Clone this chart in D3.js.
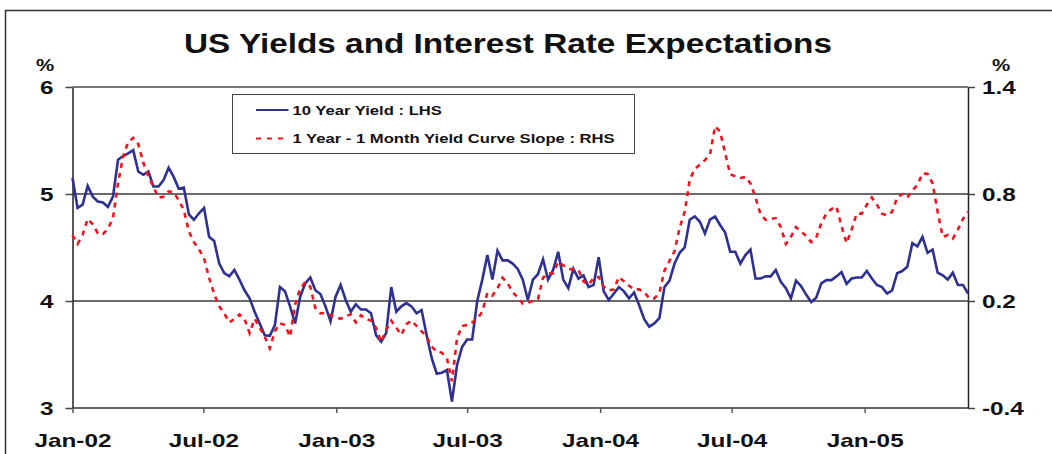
<!DOCTYPE html>
<html>
<head>
<meta charset="utf-8">
<script src="https://cdn.jsdelivr.net/npm/d3@7"></script>
<style>
  html, body { margin: 0; padding: 0; background: #fff; }
  svg { display: block; }
</style>
</head>
<body>
<svg id="chart" width="1052" height="454"></svg>
<script>
// Weekly observations, first week starting 1 Jan 2002
const startDate = new Date(Date.UTC(2002, 0, 1));
const endDate = new Date(Date.UTC(2005, 4, 25));

// 10 year Treasury yield, % (left axis)
const yield10 = [
  5.15, 4.87, 4.90, 5.075, 4.975, 4.93, 4.92, 4.88, 4.975, 5.32,
  5.355, 5.38, 5.41, 5.21, 5.18, 5.21, 5.07, 5.07, 5.13, 5.245,
  5.16, 5.05, 5.06, 4.81, 4.76, 4.82, 4.87, 4.60, 4.56, 4.35,
  4.26, 4.23, 4.29, 4.20, 4.10, 4.025, 3.90, 3.79, 3.68, 3.675,
  3.775, 4.13, 4.09, 3.95, 3.79, 4.04, 4.165, 4.22, 4.10, 4.065,
  3.95, 3.81, 4.04, 4.15, 4.01, 3.90, 3.97, 3.92, 3.92, 3.885,
  3.68, 3.62, 3.70, 4.13, 3.90, 3.95, 3.98, 3.95, 3.885, 3.915,
  3.68, 3.465, 3.32, 3.33, 3.355, 3.06, 3.40, 3.57, 3.64, 3.64,
  4.00, 4.20, 4.43, 4.20, 4.47, 4.38, 4.38, 4.35, 4.30, 4.20,
  4.01, 4.20, 4.25, 4.39, 4.20, 4.29, 4.46, 4.20, 4.12, 4.30,
  4.21, 4.24, 4.13, 4.15, 4.41, 4.09, 4.01, 4.07, 4.13, 4.09,
  4.025, 4.08, 3.96, 3.83, 3.76, 3.79, 3.84, 4.13, 4.19, 4.35,
  4.45, 4.50, 4.76, 4.79, 4.74, 4.63, 4.76, 4.79, 4.71, 4.64,
  4.46, 4.46, 4.35, 4.43, 4.48, 4.21, 4.21, 4.23, 4.23, 4.29,
  4.18, 4.12, 4.025, 4.19, 4.14, 4.06, 3.99, 4.03, 4.165, 4.195,
  4.195, 4.23, 4.27, 4.16, 4.21, 4.22, 4.22, 4.28, 4.21, 4.15,
  4.13, 4.07, 4.10, 4.26, 4.28, 4.32, 4.54, 4.51, 4.60, 4.45,
  4.48, 4.265, 4.24, 4.20, 4.265, 4.15, 4.15, 4.07
];

// 1 year minus 1 month yield curve slope, % (right axis)
const slope = [
  0.57, 0.52, 0.57, 0.66, 0.63, 0.58, 0.575, 0.605, 0.665, 0.86,
  1.01, 1.09, 1.115, 1.08, 0.975, 0.90, 0.84, 0.78, 0.785, 0.815,
  0.81, 0.765, 0.71, 0.59, 0.53, 0.49, 0.44, 0.33, 0.24, 0.17,
  0.13, 0.08, 0.10, 0.125, 0.10, 0.02, 0.10, 0.05, 0.0, -0.065,
  0.03, 0.075, 0.065, 0.0, 0.18, 0.27, 0.305, 0.28, 0.16, 0.13,
  0.134, 0.12, 0.11, 0.10, 0.115, 0.125, 0.08, 0.12, 0.10, 0.09,
  0.05, -0.03, 0.037, 0.09, 0.05, 0.01, 0.07, 0.09, 0.06, 0.03,
  0.0, -0.055, -0.085, -0.09, -0.12, -0.25, -0.01, 0.06, 0.065, 0.08,
  0.10, 0.14, 0.245, 0.23, 0.27, 0.33, 0.30, 0.25, 0.22, 0.185,
  0.19, 0.20, 0.21, 0.33, 0.355, 0.355, 0.42, 0.40, 0.38, 0.376,
  0.374, 0.31, 0.29, 0.33, 0.335, 0.28, 0.26, 0.265, 0.335, 0.31,
  0.285, 0.265, 0.265, 0.25, 0.215, 0.215, 0.245, 0.37, 0.425, 0.48,
  0.61, 0.70, 0.88, 0.94, 0.965, 0.99, 1.02, 1.18, 1.15, 1.03,
  0.91, 0.90, 0.89, 0.895, 0.86, 0.78, 0.685, 0.655, 0.66, 0.665,
  0.615, 0.52, 0.56, 0.615, 0.59, 0.565, 0.53, 0.555, 0.636, 0.69,
  0.715, 0.73, 0.62, 0.525, 0.60, 0.69, 0.69, 0.74, 0.78, 0.74,
  0.69, 0.68, 0.70, 0.78, 0.80, 0.78, 0.82, 0.85, 0.915, 0.913,
  0.86, 0.70, 0.56, 0.57, 0.55, 0.60, 0.66, 0.70
];

// Axis ticks and labels
const leftTicks = [3, 4, 5, 6];
const rightTicks = [-0.4, 0.2, 0.8, 1.4];
const rightTickLabels = ["-0.4", "0.2", "0.8", "1.4"];
const xTickDates = ["2002-01-01", "2002-07-01", "2003-01-01", "2003-07-01", "2004-01-01", "2004-07-01", "2005-01-01"];
const xTickLabels = ["Jan-02", "Jul-02", "Jan-03", "Jul-03", "Jan-04", "Jul-04", "Jan-05"];

const seriesNames = ["10 Year Yield : LHS", "1 Year - 1 Month Yield Curve Slope : RHS"];
const titleText = "US Yields and Interest Rate Expectations";

// ---- drawing ----
const FONT = "'Liberation Sans', Arial, Helvetica, sans-serif";
const SX = 1.28; // the chart's type is set wide
const BLUE = "#2e3192";
const RED = "#f0141e";

const svg = d3.select("#chart");
const plot = { left: 72.5, right: 968, top: 87, bottom: 408 };

const dates = d3.utcTuesday.range(startDate, endDate);
const x = d3.scaleUtc().domain([startDate, dates[yield10.length - 1]]).range([plot.left, plot.right]);
const yL = d3.scaleLinear().domain([3, 6]).range([plot.bottom, plot.top]);
const yR = d3.scaleLinear().domain([-0.4, 1.4]).range([plot.bottom, plot.top]);

function label(g, px, py, str, size, anchor, sx = SX) {
  return g.append("text")
    .attr("transform", `translate(${px},${py}) scale(${sx},1)`)
    .attr("text-anchor", anchor)
    .style("font-family", FONT)
    .style("font-weight", "bold")
    .style("font-size", size + "px")
    .attr("fill", "#111")
    .text(str);
}

// outer frame
svg.append("path")
  .attr("d", "M5.5,454 L5.5,10.5 L1052,10.5")
  .attr("fill", "none").attr("stroke", "#333").attr("stroke-width", 1.5);

// title and unit labels
label(svg, 508, 53, titleText, 28, "middle", 1.19);
label(svg, 45, 71, "%", 16, "middle");
label(svg, 1001, 71, "%", 16, "middle");

// horizontal grid lines
svg.append("g").selectAll("line")
  .data(leftTicks)
  .join("line")
  .attr("x1", plot.left).attr("x2", plot.right)
  .attr("y1", d => yL(d)).attr("y2", d => yL(d))
  .attr("stroke", d => d === 6 ? "#777" : (d === 3 ? "#666" : "#3a3a3a"))
  .attr("stroke-width", d => (d === 6 || d === 3) ? 2 : 1.4);

// left axis
const gL = svg.append("g").attr("transform", `translate(${plot.left},0)`)
  .call(d3.axisLeft(yL).tickValues(leftTicks).tickSize(7).tickSizeOuter(0).tickPadding(12).tickFormat(d3.format("d")));
gL.select(".domain").attr("stroke", "#222").attr("stroke-width", 1.5);
gL.selectAll(".tick line").attr("stroke", "#444").attr("stroke-width", 1.5);

// right axis
const gR = svg.append("g").attr("transform", `translate(${plot.right},0)`)
  .call(d3.axisRight(yR).tickValues(rightTicks).tickSize(7).tickSizeOuter(0).tickPadding(7)
    .tickFormat((d, i) => rightTickLabels[i]));
gR.select(".domain").attr("stroke", "#222").attr("stroke-width", 1.5);
gR.selectAll(".tick line").attr("stroke", "#444").attr("stroke-width", 1.5);

// bottom axis
const gB = svg.append("g").attr("transform", `translate(0,${plot.bottom})`)
  .call(d3.axisBottom(x).tickValues(xTickDates.map(d => new Date(d + "T00:00:00Z")))
    .tickSize(5).tickSizeOuter(0).tickPadding(21).tickFormat((d, i) => xTickLabels[i]));
gB.select(".domain").remove();
gB.selectAll(".tick line").attr("stroke", "#555").attr("stroke-width", 1.5);

// tick label styling, widened to the chart's type
[gL, gR, gB].forEach(g => {
  g.attr("font-family", null).attr("font-size", null);
  g.selectAll(".tick text").each(function () {
    const t = d3.select(this);
    const tx = +t.attr("x") || 0;
    t.attr("x", tx / SX)
      .attr("transform", `scale(${SX},1)`)
      .style("font-family", FONT)
      .style("font-weight", "bold")
      .style("font-size", "19px")
      .attr("fill", "#111");
  });
});

// series lines
const lineL = d3.line().x((d, i) => x(dates[i])).y(d => yL(d));
const lineR = d3.line().x((d, i) => x(dates[i])).y(d => yR(d));

svg.append("path")
  .datum(yield10)
  .attr("d", lineL)
  .attr("fill", "none").attr("stroke", BLUE).attr("stroke-width", 2.6)
  .attr("stroke-linejoin", "miter");

svg.append("path")
  .datum(slope)
  .attr("d", lineR)
  .attr("fill", "none").attr("stroke", RED).attr("stroke-width", 2.6)
  .attr("stroke-dasharray", "5,5");

// legend
const lg = svg.append("g");
lg.append("rect")
  .attr("x", 232.5).attr("y", 94.5).attr("width", 402).attr("height", 59)
  .attr("fill", "#fff").attr("stroke", "#444").attr("stroke-width", 1);
lg.append("line").attr("x1", 256).attr("x2", 288.5).attr("y1", 110).attr("y2", 110)
  .attr("stroke", BLUE).attr("stroke-width", 1.8);
lg.append("line").attr("x1", 256).attr("x2", 288.5).attr("y1", 138.5).attr("y2", 138.5)
  .attr("stroke", RED).attr("stroke-width", 1.8).attr("stroke-dasharray", "5,6");
label(lg, 292.5, 114.5, seriesNames[0], 13, "start");
label(lg, 292.5, 143, seriesNames[1], 13, "start");
</script>
</body>
</html>
